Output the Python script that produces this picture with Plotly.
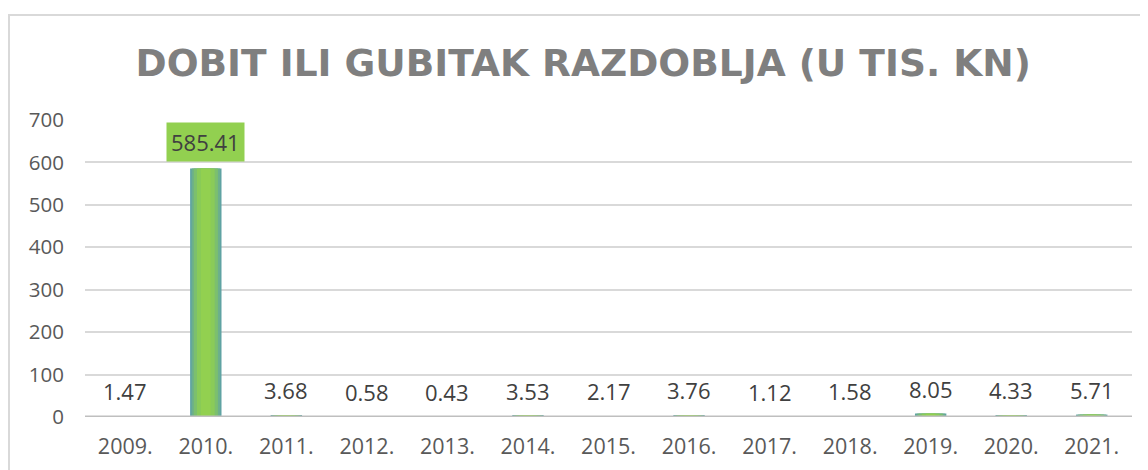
import plotly.graph_objects as go

years = ["2009.", "2010.", "2011.", "2012.", "2013.", "2014.", "2015.",
         "2016.", "2017.", "2018.", "2019.", "2020.", "2021."]
values = [1.47, 585.41, 3.68, 0.58, 0.43, 3.53, 2.17, 3.76, 1.12, 1.58, 8.05, 4.33, 5.71]
y_ticks = [0, 100, 200, 300, 400, 500, 600, 700]
title_text = "DOBIT ILI GUBITAK RAZDOBLJA (U TIS. KN)"

fig = go.Figure()

# gradient-like bars: overlaid bars from teal edge to green centre
layers = [(0.39, "#5fa3a3"), (0.35, "#6cb08a"), (0.30, "#7cbf6e"), (0.22, "#8acb58"), (0.12, "#92d050")]
for w, c in layers:
    fig.add_trace(go.Bar(x=years, y=values, width=w, marker=dict(color=c, line=dict(width=0)),
                         hoverinfo="skip", showlegend=False))

# data labels (x given as category index so "2009." is not read as a number)
for i, (yr, v) in enumerate(zip(years, values)):
    big = v > 100
    fig.add_annotation(
        x=i, y=v, text=f"{v:.2f}", showarrow=False, yanchor="middle",
        yshift=27 if big else 25,
        font=dict(family="Open Sans", size=22, color="#404040"),
        bgcolor="#92d050" if big else "rgba(0,0,0,0)", borderpad=4 if big else 0,
    )

fig.update_layout(
    width=1148, height=470,
    barmode="overlay",
    paper_bgcolor="white", plot_bgcolor="white",
    margin=dict(l=77, r=24, t=112, b=61),
    title=dict(text=title_text, x=0.501, xanchor="center", y=0.883, yanchor="middle",
               font=dict(family="DejaVu Sans", size=37.5, color="#7f7f7f", weight="bold")),
    xaxis=dict(type="category", range=[-0.5, 12.5], autorange=False,
               tickfont=dict(family="Open Sans", size=21.5, color="#595959"),
               showgrid=False, showline=False, ticks="", ticklabelstandoff=14),
    yaxis=dict(range=[0, 700], tickvals=y_ticks, showgrid=True, gridcolor="#d9d9d9", gridwidth=2,
               zeroline=False, showline=False, ticks="", ticklabelstandoff=20,
               tickfont=dict(family="Open Sans", size=20.5, color="#595959")),
    shapes=[
        dict(type="line", xref="paper", yref="y", x0=0, x1=1, y0=0, y1=0,
             line=dict(color="#bfbfbf", width=3), layer="above"),
        dict(type="rect", xref="paper", yref="paper",
             x0=-76/1047, x1=1.03, y0=-0.3, y1=(470-15-53)/297,
             line=dict(color="#d9d9d9", width=2), layer="below"),
    ],
)

fig.write_html("out.html")
